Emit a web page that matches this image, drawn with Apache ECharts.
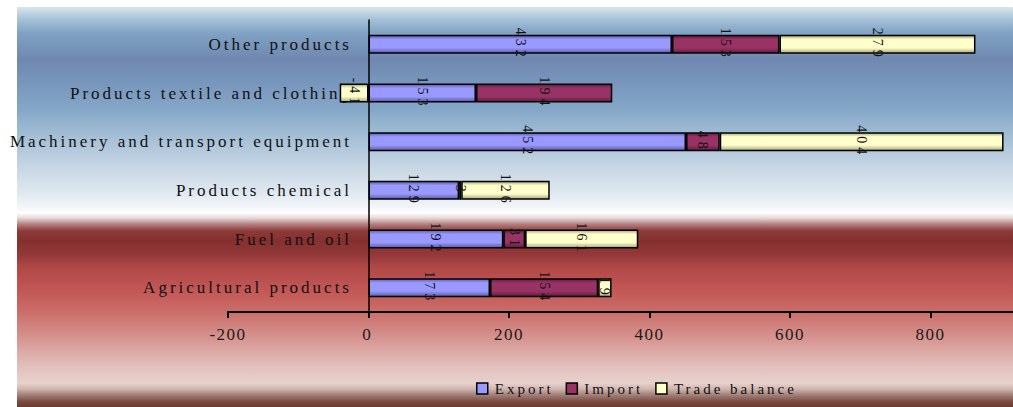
<!DOCTYPE html>
<html>
<head>
<meta charset="utf-8">
<script src="https://cdn.jsdelivr.net/npm/echarts@6/dist/echarts.min.js"></script>
<style>
  html, body { margin: 0; padding: 0; background: #ffffff; }
  #wrap { position: relative; width: 1013px; height: 407px; overflow: hidden; background: #ffffff; }
  #panel {
    position: absolute; left: 17px; top: 7px; width: 996px; height: 400px;
    background: linear-gradient(to bottom,
      #d8e6ee 0%, #a6c2d8 3%, #80a2c4 6.5%, #7088b0 13%, #7896bc 19%,
      #86a8c8 26%, #a0bcd4 31.5%, #c6d6e4 40%, #e2eaf2 47%, #f6f8fa 50.5%,
      #ffffff 51.5%, #e6d4d4 52.8%, #b48080 54.3%, #8c3a38 56%, #84302e 58.5%,
      #94383a 62%, #b04848 65%, #c45a58 71.5%, #ca6c68 76%, #d48c88 81.5%,
      #dca8a4 86%, #e2c0bc 90%, #e8d2ce 94%, #d0b4ae 95.5%, #a08078 97%, #7a4a40 98.7%, #6e3a30 100%);
  }
  #chart { position: absolute; left: 0; top: 0; width: 1013px; height: 407px; }
</style>
</head>
<body>
<div id="wrap">
  <div id="panel"></div>
  <div id="chart"></div>
</div>
<script>
// Trade by product group: export, import and the resulting balance
const categories = [
  'Agricultural products',
  'Fuel and oil',
  'Products chemical',
  'Machinery and transport equipment',
  'Products textile and clothing',
  'Other products'
];
const exportValues  = [173, 192, 129, 452, 153, 432];
const importValues  = [154, 31, 3, 48, 194, 153];
const balanceValues = [19, 161, 126, 404, -41, 279];
const seriesNames = ['Export', 'Import', 'Trade balance'];
const axisMin = -200, axisMax = 1000, axisStep = 200;

const FONT = '"Liberation Serif", "Times New Roman", serif';
const LEGEND_TRACK = 3;   // px of letter spacing on legend names
const GRID_LEFT = 228;
const ZERO_X = 369;       // where the category axis crosses the value axis

// Tubular look: darker rims at top and bottom of each bar
function tube(edge, mid) {
  return {
    type: 'linear', x: 0, y: 0, x2: 0, y2: 1,
    colorStops: [
      { offset: 0, color: edge },
      { offset: 0.22, color: mid },
      { offset: 0.7, color: mid },
      { offset: 1, color: edge }
    ]
  };
}
const fills = [
  tube('#5c5ca8', '#9999ff'),
  tube('#5e1c3e', '#993366'),
  tube('#a8a878', '#ffffcc')
];
const flatColors = ['#9999ff', '#993366', '#ffffcc'];
const valueSets = [exportValues, importValues, balanceValues];

const chart = echarts.init(document.getElementById('chart'), null, { renderer: 'svg' });

chart.setOption({
  animation: false,
  backgroundColor: 'transparent',
  grid: {
    left: GRID_LEFT, right: -58, top: 20, bottom: 95,
    containLabel: false, outerBoundsMode: 'none'
  },
  legend: {
    left: 471, top: 376,
    itemWidth: 11, itemHeight: 11,
    itemGap: 12 + 6 * LEGEND_TRACK,
    icon: 'rect',
    textStyle: { fontFamily: FONT, fontSize: 15, color: '#111', padding: [0, 0, 0, 2] },
    data: seriesNames.map((n, i) => ({
      name: n,
      itemStyle: { color: flatColors[i], borderColor: '#000', borderWidth: 1.5 }
    }))
  },
  xAxis: {
    type: 'value', min: axisMin, max: axisMax, interval: axisStep,
    axisLine: { show: true, onZero: false, lineStyle: { color: '#000', width: 2 } },
    axisTick: { show: true, length: 6, lineStyle: { color: '#000', width: 2 } },
    axisLabel: {
      fontFamily: FONT, fontSize: 17, color: '#1a1a1a', margin: 14,
      showMaxLabel: false
    },
    splitLine: { show: false }
  },
  yAxis: {
    type: 'category', data: categories,
    axisLine: { show: true, onZero: true, lineStyle: { color: '#000', width: 1.5 } },
    axisTick: { show: false },
    // names sit just left of the zero line rather than the grid edge
    axisLabel: { fontFamily: FONT, fontSize: 17, color: '#111', margin: GRID_LEFT - ZERO_X + 17 }
  },
  series: seriesNames.map((name, i) => ({
    name, type: 'bar', stack: 'trade',
    barWidth: 19,
    data: valueSets[i],
    itemStyle: { color: fills[i], borderColor: '#000', borderWidth: 1.5 },
    label: {
      show: true, position: 'inside', rotate: -90,
      fontFamily: FONT, fontSize: 14, color: '#111',
      formatter: p => String(p.value)
    }
  }))
});

// Wide tracking on all chart text, stronger on names than on numbers
function spaceText() {
  const svg = document.querySelector('#chart svg');
  if (!svg) return;
  const catSet = new Set(categories);
  const legSet = new Set(seriesNames);
  svg.querySelectorAll('text').forEach(t => {
    const s = t.textContent;
    let ls;
    if (catSet.has(s)) ls = '3px';
    else if (legSet.has(s)) ls = LEGEND_TRACK + 'px';
    else if (/^-?\d+$/.test(s) && Number(s) % axisStep === 0 && Math.abs(Number(s)) >= 200) ls = '1.5px';
    else ls = '4px';
    t.style.letterSpacing = ls;
  });
}
spaceText();
chart.on('finished', spaceText);
</script>
</body>
</html>
